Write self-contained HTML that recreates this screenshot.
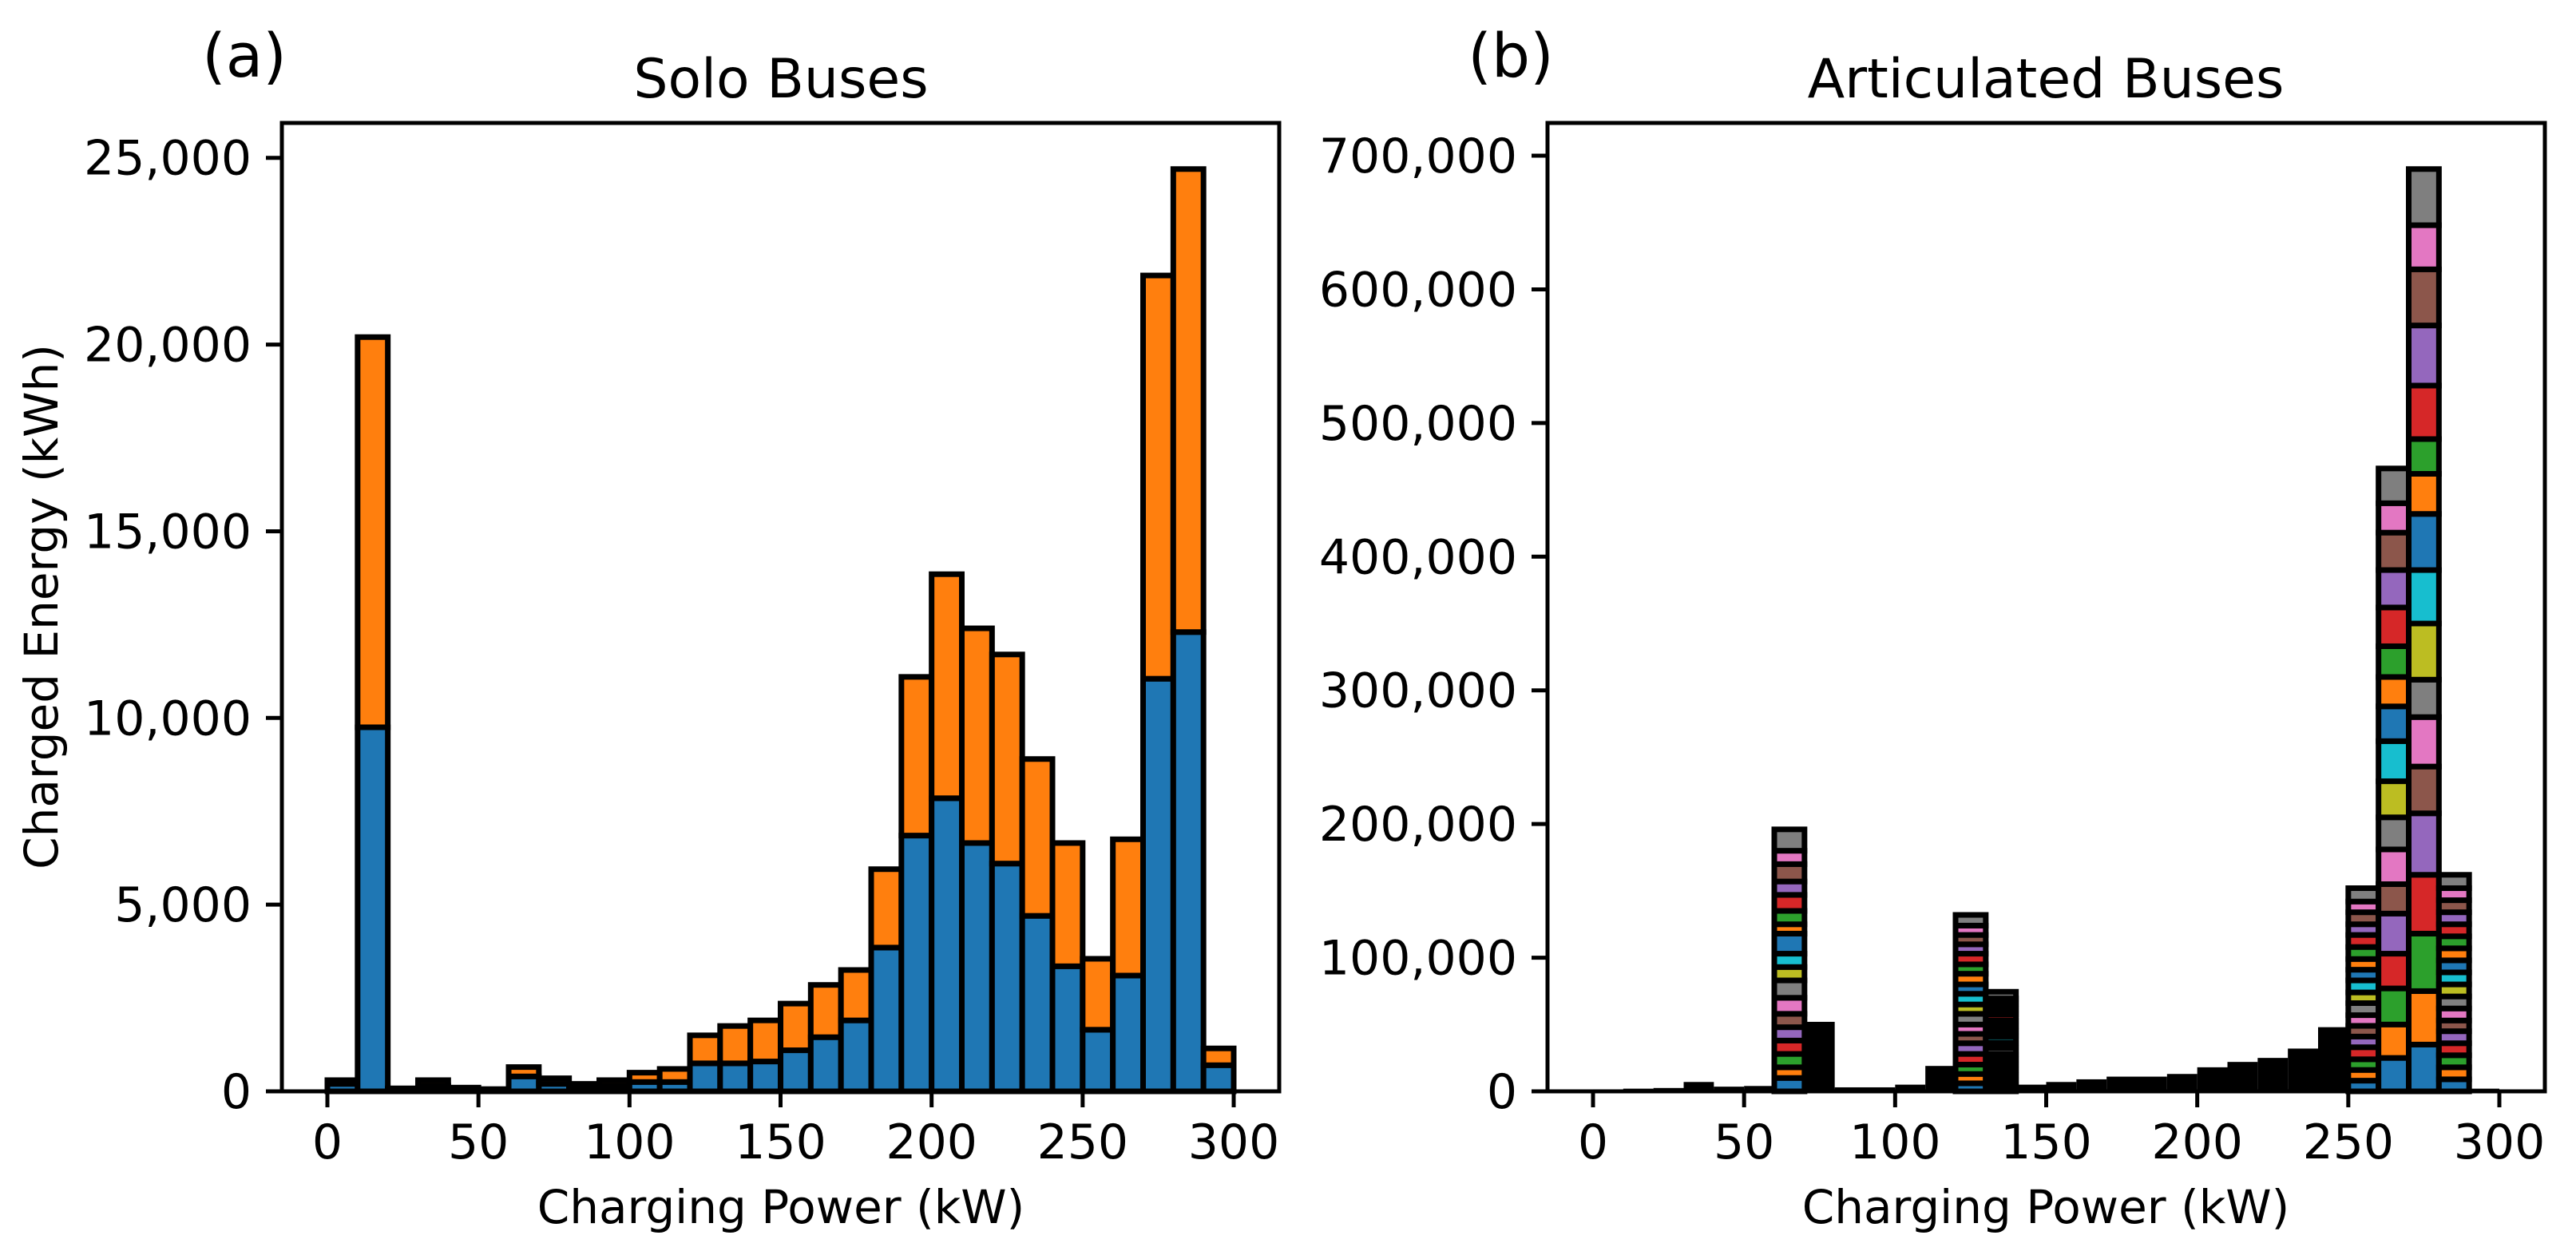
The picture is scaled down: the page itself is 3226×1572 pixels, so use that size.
<!DOCTYPE html>
<html><head><meta charset="utf-8"><style>
html,body{margin:0;padding:0;background:#fff}
svg{display:block}
text{font-family:"DejaVu Sans","Liberation Sans",sans-serif;fill:#000}
</style></head><body>
<svg id="fig" width="3226" height="1572" viewBox="0 0 3226 1572" xmlns="http://www.w3.org/2000/svg">
<rect width="3226" height="1572" fill="#fff"/>
<text x="306" y="96" font-size="76" text-anchor="middle">(a)</text>
<text x="1892" y="96" font-size="76" text-anchor="middle">(b)</text>
<text x="978" y="122" font-size="68" text-anchor="middle">Solo Buses</text>
<text x="2562" y="122" font-size="68" text-anchor="middle">Articulated Buses</text>
<text x="978" y="1532" font-size="58" text-anchor="middle">Charging Power (kW)</text>
<text x="2562" y="1532" font-size="58" text-anchor="middle">Charging Power (kW)</text>
<text x="0" y="0" font-size="58" text-anchor="middle" transform="translate(72,760) rotate(-90)">Charged Energy (kWh)</text>
<g id="gA"></g><g id="gB"></g>
</svg>
<script>
// Solo buses, bins of 10 kW from 0 to 300
const soloBlue  = [200,9750,50,150,50,30,400,200,150,150,250,250,750,750,800,1100,1450,1900,3850,6850,7850,6650,6100,4700,3350,1650,3100,11050,12300,700];
const soloTotal = [300,20200,80,300,100,60,650,350,200,300,500,600,1500,1750,1900,2350,2850,3250,5950,11100,13850,12400,11700,8900,6650,3550,6750,21850,24700,1150];
const soloYTicks = [0,5000,10000,15000,20000,25000];
const xTicks = [0,50,100,150,200,250,300];
// Articulated buses: black background histogram per bin
const artTotal = [1500,2000,2500,7000,3500,4000,196000,52000,3000,3000,5000,19000,133000,75000,5000,7000,9000,11000,11000,13000,18000,22000,25000,32000,48000,152000,466000,690000,160000,2000];
// stacked bins (bin index) with segment values
const artStackBins = [6,12,13,25,26,27,28];
const seg6  = [10000,8000,10000,10000,10000,10000,12000,13000,10000,10000,15000,7000,10000,12000,10000,13000,10000,16000];
const seg12 = [6000,7000,7000,8000,8000,7000,7000,8000,7000,8000,7000,8000,7000,8000,7000,7000,7000,8000];
const seg13 = [4000,4000,4000,4000,4000,4000,4000,4500,4000,4500,4000,4000,4000,4500,4000,4000,4000,5000];
const seg25 = [8000,8000,8000,9000,8000,8000,8000,9000,8000,9000,8000,8000,9000,9000,8000,9000,8000,10000];
const seg26 = [25000,25000,27000,26000,30000,22000,26000,24000,27000,30000,26000,22000,23000,29000,28000,28000,22000,26000];
const seg27 = [35000,40000,43000,44000,46000,35000,37000,28000,42000,40000,42000,30000,26000,40000,45000,42000,33000,42000];
const seg28 = [9000,9000,9000,9000,9000,8000,9000,9000,9000,9000,9000,9000,9000,9000,9000,9000,9000,10000];
const artSegs = [seg6,seg12,seg13,seg25,seg26,seg27,seg28];
const artYTicks = [0,100000,200000,300000,400000,500000,600000,700000];
const tab10 = ['#1f77b4','#ff7f0e','#2ca02c','#d62728','#9467bd','#8c564b','#e377c2','#7f7f7f','#bcbd22','#17becf'];

const NS='http://www.w3.org/2000/svg';
function mk(parent,tag,attrs){const e=document.createElementNS(NS,tag);for(const k in attrs)e.setAttribute(k,attrs[k]);parent.appendChild(e);return e;}
function fmt(v){return v.toLocaleString('en-US');}

function axes(g,x0px,ymax){
  const L=x0px-57,R=x0px+1135+57,T=154,B=1367;
  const sx=v=>x0px+v*(1135/300);
  const sy=v=>B-v*(B-T)/ymax;
  return {L,R,T,B,sx,sy};
}
function frame(g,a,yTicks,nm){
  const box=mk(g,'rect',{x:a.L,y:a.T,width:a.R-a.L,height:a.B-a.T,fill:'none',stroke:'#000','stroke-width':5});
  
  
  xTicks.forEach(v=>{
    const t=mk(g,'line',{x1:a.sx(v),x2:a.sx(v),y1:a.B,y2:a.B+20,stroke:'#000','stroke-width':5});
    
    
    const l=mk(g,'text',{x:a.sx(v),y:1451,'font-size':60,'text-anchor':'middle'});l.textContent=v;
    
    
  });
  yTicks.forEach(v=>{
    const t=mk(g,'line',{x1:a.L-20,x2:a.L,y1:a.sy(v),y2:a.sy(v),stroke:'#000','stroke-width':5});
    
    
    const l=mk(g,'text',{x:a.L-38,y:a.sy(v)+21,'font-size':60,'text-anchor':'end'});l.textContent=fmt(v);
    
    
  });
}
function bar(g,a,i,y0,y1,fill,edge,nm){
  const r=mk(g,'rect',{x:a.sx(i*10),y:a.sy(y1),width:a.sx(10)-a.sx(0),height:Math.max(0,a.sy(y0)-a.sy(y1)),fill:fill,stroke:edge,'stroke-width':edge==='none'?0:7});
  
  
  return r;
}
// Panel A
const gA=document.getElementById('gA');
const aA=axes(gA,410,24700*1.05);
soloTotal.forEach((t,i)=>{
  bar(gA,aA,i,0,soloBlue[i],'#1f77b4','#000','solo-bar-blue');
  bar(gA,aA,i,soloBlue[i],t,'#ff7f0e','#000','solo-bar-orange');
});
frame(gA,aA,soloYTicks,'solo');
// Panel B
const gB=document.getElementById('gB');
const aB=axes(gB,1995,690000*1.05);
artTotal.forEach((t,i)=>{
  if(artStackBins.indexOf(i)<0) bar(gB,aB,i,0,t,'#000','none','articulated-bar-total');
});
artStackBins.forEach((bi,k)=>{
  let acc=0;
  artSegs[k].forEach((v,j)=>{
    bar(gB,aB,bi,acc,acc+v,tab10[j%10],'#000','articulated-bar-segment');
    acc+=v;
  });
});
frame(gB,aB,artYTicks,'articulated');
</script>
</body></html>
